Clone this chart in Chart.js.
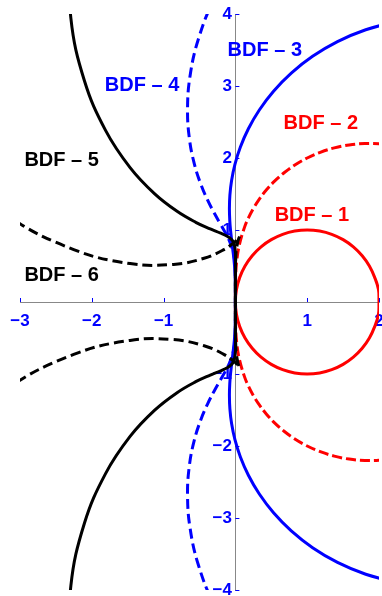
<!DOCTYPE html>
<html lang="en">
<head>
  <meta charset="UTF-8" />
  <title>BDF stability boundaries</title>
  <script src="https://cdn.jsdelivr.net/npm/chart.js"></script>
  <style>
    html, body { margin: 0; padding: 0; background: #fff; }
    #wrap { width: 382px; height: 596px; }
  </style>
</head>
<body>
  <div id="wrap"><canvas id="bdfChart"></canvas></div>

  <script>
    // Boundary points of each BDF stability region, upper half only (y >= 0),
    // listed from the far end of the curve in towards the origin.
    // The lower half is the mirror image.
    const bdf1X = [2, 1.9924, 1.9397, 1.8660, 1.7660, 1.6428, 1.5, 1.3420, 1.1736, 1, 0.8264, 0.6580, 0.5, 0.3572, 0.2340, 0.1340, 0.0603, 0.0152, 0];
    const bdf1Y = [0, 0.1736, 0.3420, 0.5, 0.6428, 0.7660, 0.8660, 0.9397, 0.9848, 1, 0.9848, 0.9397, 0.8660, 0.7660, 0.6428, 0.5, 0.3420, 0.1736, 0];

    const bdf2X = [2.25, 2.0238, 1.8010, 1.5846, 1.3774, 1.1819, 1, 0.8333, 0.6829, 0.5493, 0.4329, 0.3334, 0.25, 0.1818, 0.1276, 0.0547, 0.0180, 0.0036, 0.0002, 0];
    const bdf2Y = [2.1651, 2.1956, 2.2008, 2.1818, 2.1406, 2.0792, 2, 1.9056, 1.7986, 1.6819, 1.5580, 1.4296, 1.2990, 1.1685, 1.0397, 0.7932, 0.5670, 0.3627, 0.1763, 0];

    const bdf3X = [2.25, 1.8150, 1.4216, 1.0750, 0.7781, 0.5313, 0.3333, 0.1809, 0.0695, -0.0065, -0.0531, -0.0767, -0.0833, -0.0785, -0.0668, -0.0377, -0.0147, -0.0033, -0.0002, 0];
    const bdf3Y = [3.8971, 3.7817, 3.6166, 3.4120, 3.1788, 2.9271, 2.6667, 2.4062, 2.1527, 1.9121, 1.6882, 1.4836, 1.2990, 1.1342, 0.9876, 0.7398, 0.5343, 0.3506, 0.1746, 0];

    const bdf4X = [0.0420, -0.2973, -0.5163, -0.6327, -0.6667, -0.6397, -0.5722, -0.4823, -0.3848, -0.2910, -0.2083, -0.1407, -0.0890, -0.0282, -0.0058, -0.0006, 0, 0];
    const bdf4Y = [4.7743, 4.2043, 3.6499, 3.1323, 2.6667, 2.2615, 1.9192, 1.6374, 1.4099, 1.2282, 1.0825, 0.9634, 0.8619, 0.6859, 0.5188, 0.3482, 0.1745, 0];

    const bdf5X = [-2.3095, -2.2916, -2.1028, -1.8085, -1.4667, -1.1237, -0.8124, -0.5521, -0.3501, -0.2048, -0.1083, -0.0499, -0.0183, 0.0014, 0.0014, 0.0002, 0, 0];
    const bdf5Y = [4.98, 3.9418, 3.0725, 2.3832, 1.8667, 1.5018, 1.2592, 1.1069, 1.0141, 0.9549, 0.9093, 0.8643, 0.8124, 0.6807, 0.5207, 0.3489, 0.1745, 0];

    const bdf6X = [-4.1723, -3.1805, -2.2519, -1.4667, -0.8612, -0.4362, -0.1682, -0.0212, 0.0431, 0.0583, 0.0499, 0.0343, 0.0099, 0.0014, 0.0001, 0, 0];
    const bdf6Y = [2.0611, 1.2057, 0.7283, 0.5333, 0.5222, 0.6076, 0.7230, 0.8242, 0.8885, 0.9093, 0.8911, 0.8428, 0.6955, 0.5239, 0.3491, 0.1745, 0];

    const xTicks = [-3, -2, -1, 0, 1, 2];
    const yTicks = [-4, -3, -2, -1, 0, 1, 2, 3, 4];

    // upper half in, then the mirrored lower half back out
    function curve(xs, ys) {
      const pts = xs.map((x, i) => ({ x: x, y: ys[i] }));
      for (let i = xs.length - 2; i >= 0; i--) {
        pts.push({ x: xs[i], y: -ys[i] });
      }
      return pts;
    }

    const RED = '#ff0000';
    const BLUE = '#0000ff';
    const BLACK = '#000000';

    // where each curve's name is written (data coordinates)
    const labelSpots = {
      'BDF – 1': [1.065, 1.20],
      'BDF – 2': [1.19, 2.48],
      'BDF – 3': [0.41, 3.49],
      'BDF – 4': [-1.30, 3.01],
      'BDF – 5': [-2.42, 1.97],
      'BDF – 6': [-2.42, 0.375]
    };

    const minus = v => (v < 0 ? '\u2212' + Math.abs(v) : String(v));

    // the axes sit at the origin, so their label overhang should not shrink the plot
    const noOverhang = s => { s.paddingLeft = 0; s.paddingRight = 0; s.paddingTop = 0; s.paddingBottom = 0; };

    const curveLabels = {
      id: 'curveLabels',
      afterDatasetsDraw(chart) {
        const { ctx, scales: { x, y } } = chart;
        const x0 = x.getPixelForValue(0);
        const y0 = y.getPixelForValue(0);

        // small tick marks on the inner side of the axes
        ctx.save();
        ctx.strokeStyle = BLUE;
        ctx.lineWidth = 1;
        ctx.beginPath();
        xTicks.forEach(v => {
          if (v === 0) return;
          const px = Math.round(x.getPixelForValue(v)) + 0.5;
          ctx.moveTo(px, y0);
          ctx.lineTo(px, y0 - 4);
        });
        yTicks.forEach(v => {
          if (v === 0) return;
          const py = Math.round(y.getPixelForValue(v)) + 0.5;
          ctx.moveTo(x0, py);
          ctx.lineTo(x0 + 4, py);
        });
        ctx.stroke();

        ctx.font = 'bold 20px "Liberation Sans", Arial, sans-serif';
        ctx.textAlign = 'center';
        ctx.textBaseline = 'middle';
        chart.data.datasets.forEach(ds => {
          const spot = labelSpots[ds.label];
          ctx.fillStyle = ds.borderColor;
          ctx.fillText(ds.label, x.getPixelForValue(spot[0]), y.getPixelForValue(spot[1]));
        });
        ctx.restore();
      }
    };

    const tickFont = { family: '"Liberation Sans", Arial, sans-serif', size: 17, weight: 'bold' };

    new Chart(document.getElementById('bdfChart'), {
      type: 'scatter',
      data: {
        datasets: [
          { label: 'BDF – 5', data: curve(bdf5X, bdf5Y), borderColor: BLACK },
          { label: 'BDF – 6', data: curve(bdf6X, bdf6Y), borderColor: BLACK, borderDash: [10, 5] },
          { label: 'BDF – 4', data: curve(bdf4X, bdf4Y), borderColor: BLUE, borderDash: [10, 5] },
          { label: 'BDF – 3', data: curve(bdf3X, bdf3Y), borderColor: BLUE },
          { label: 'BDF – 2', data: curve(bdf2X, bdf2Y), borderColor: RED, borderDash: [10, 4] },
          { label: 'BDF – 1', data: curve(bdf1X, bdf1Y), borderColor: RED }
        ]
      },
      options: {
        responsive: true,
        maintainAspectRatio: false,
        animation: false,
        layout: { padding: { left: 20, right: 3, top: 14, bottom: 6 } },
        elements: {
          point: { radius: 0, hoverRadius: 0 },
          line: { borderWidth: 3, tension: 0.4, fill: false, capBezierPoints: false }
        },
        datasets: { scatter: { showLine: true } },
        plugins: {
          legend: { display: false },
          tooltip: { enabled: false }
        },
        scales: {
          x: {
            type: 'linear',
            position: { y: 0 },
            min: -3,
            max: 2,
            afterBuildTicks: s => { s.ticks = xTicks.map(v => ({ value: v })); },
            afterFit: noOverhang,
            grid: { display: false, drawTicks: false },
            border: { display: true, color: '#888888', width: 1 },
            ticks: {
              color: BLUE,
              font: tickFont,
              padding: 9,
              maxRotation: 0,
              callback: v => (v === 0 ? null : minus(v))
            }
          },
          y: {
            type: 'linear',
            position: { x: 0 },
            min: -4,
            max: 4,
            afterBuildTicks: s => { s.ticks = yTicks.map(v => ({ value: v })); },
            afterFit: noOverhang,
            grid: { display: false, drawTicks: false },
            border: { display: true, color: '#888888', width: 1 },
            ticks: {
              color: BLUE,
              font: tickFont,
              // trailing thin space keeps the number clear of the axis line
              callback: v => (v === 0 ? null : minus(v) + '\u2009')
            }
          }
        }
      },
      plugins: [curveLabels]
    });
  </script>
</body>
</html>
